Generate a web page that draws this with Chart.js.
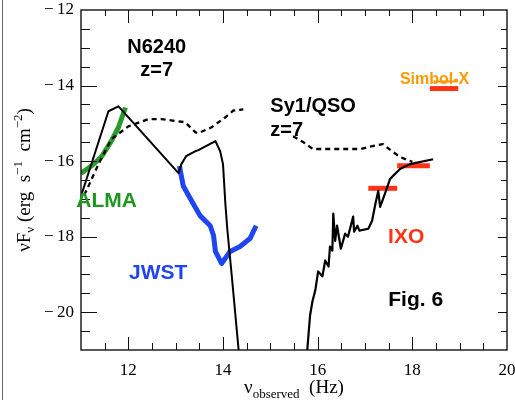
<!DOCTYPE html>
<html>
<head>
<meta charset="utf-8">
<script src="https://cdn.jsdelivr.net/npm/chart.js@4.4.0/dist/chart.umd.min.js"></script>
<style>
  html, body { margin: 0; padding: 0; background: #fff; }
  #wrap { width: 515px; height: 400px; }
</style>
</head>
<body>
<div id="wrap"><canvas id="myChart" width="515" height="400"></canvas></div>
<script>
// log(nu) [Hz] and log(nu F_nu) [erg s^-1 cm^-2]
const n6240IrX = [11.02, 11.58, 11.79, 11.85, 13.06, 13.12, 13.22, 13.41, 13.48, 13.84, 13.94, 14.0, 14.05, 14.09, 14.19, 14.33];
const n6240IrY = [-16.85, -14.68, -14.55, -14.63, -16.32, -16.08, -15.87, -15.74, -15.71, -15.47, -15.74, -16.08, -17.13, -17.79, -19.1, -21.0];

const n6240XrayX = [15.78, 15.84, 15.89, 15.95, 16.01, 16.10, 16.16, 16.23, 16.26, 16.31, 16.33, 16.37, 16.41, 16.49, 16.58, 16.64, 16.75, 16.77, 16.84, 16.88, 17.07, 17.15, 17.22, 17.28, 17.32, 17.42, 17.53, 17.74, 17.95, 18.44];
const n6240XrayY = [-21.0, -20.08, -19.71, -19.42, -18.92, -19.05, -18.63, -18.79, -18.26, -18.37, -17.39, -18.11, -17.71, -18.32, -17.92, -18.0, -17.47, -17.87, -17.71, -17.84, -17.79, -17.58, -17.13, -16.79, -17.21, -16.87, -16.47, -16.21, -16.08, -15.95];

// Sy1/QSO template (dashed), broken behind the label
const qsoX = [11.07, 11.37, 11.64, 12.0, 12.42, 12.7, 13.2, 13.42, 13.48, 13.75, 14.05, 14.22, 14.43, 15.0, 15.48, 15.7, 15.9, 16.26, 16.9, 17.17, 17.38, 17.57, 17.74, 18.0];
const qsoY = [-16.9, -16.08, -15.42, -15.08, -14.89, -14.89, -14.97, -15.24, -15.26, -15.11, -14.84, -14.66, -14.63, null, -15.34, -15.5, -15.68, -15.68, -15.68, -15.6, -15.55, -15.74, -15.89, -16.02];

const almaX = [11.0, 11.22, 11.43, 11.64, 11.79, 11.94];
const almaY = [-16.32, -16.13, -15.89, -15.47, -15.11, -14.58];

const jwstX = [13.08, 13.16, 13.35, 13.52, 13.73, 13.8, 13.84, 13.97, 14.15, 14.36, 14.57, 14.7];
const jwstY = [-16.13, -16.66, -17.08, -17.45, -17.71, -17.97, -18.39, -18.71, -18.39, -18.26, -18.05, -17.71];

// sensitivity bars: from, to, level
const ixoFrom = [17.07, 17.68];
const ixoTo = [17.68, 18.37];
const ixoLevel = [-16.72, -16.12];
const simbolFrom = [18.37];
const simbolTo = [18.97];
const simbolLevel = [-14.08];
const simbolOrangeFrom = [18.45];
const simbolOrangeTo = [18.96];
const simbolOrangeLevel = [-13.89];

const xTickLabels = [12, 14, 16, 18, 20];
const yTickLabels = [-20, -18, -16, -14, -12];
const xMin = 11, xMax = 20, yMin = -21, yMax = -12;

// text labels in data coordinates
const labelTexts = ['N6240', 'z=7', 'Sy1/QSO', 'z=7', 'Simbol-X', 'ALMA', 'JWST', 'IXO', 'Fig. 6'];
const labelX = [12.6, 12.6, 15.0, 15.0, 18.47, 11.54, 12.63, 17.87, 18.07];
const labelY = [-13.13, -13.76, -14.71, -15.34, -13.97, -17.21, -19.11, -18.18, -19.84];
const labelColors = ['#000', '#000', '#000', '#000', '#ff9900', '#1f961f', '#1f45f0', '#ff3315', '#000'];
const labelSizes = [20, 20, 20, 20, 16, 21, 21, 21, 21];
const labelAlign = ['center', 'center', 'left', 'left', 'center', 'center', 'center', 'center', 'center'];

const toPts = (xs, ys) => xs.map((v, i) => ({ x: v, y: ys[i] }));

const lineSet = (xs, ys, color, width, dash) => ({
  data: toPts(xs, ys),
  showLine: true,
  borderColor: color,
  borderWidth: width,
  borderDash: dash || [],
  pointRadius: 0,
  tension: 0,
  spanGaps: false,
  clip: 0,
  borderCapStyle: 'butt',
  borderJoinStyle: 'round'
});

const barSets = (from, to, level, color, width) =>
  from.map((f, i) => lineSet([f, to[i]], [level[i], level[i]], color, width));

const datasets = [
  lineSet(qsoX, qsoY, '#000', 2.3, [5, 4]),
  lineSet(n6240IrX, n6240IrY, '#000', 2),
  lineSet(n6240XrayX, n6240XrayY, '#000', 2.2),
  lineSet(almaX, almaY, '#2a9a2a', 5),
  lineSet(jwstX, jwstY, '#1f45f0', 5),
  ...barSets(ixoFrom, ixoTo, ixoLevel, '#ff3315', 5),
  ...barSets(simbolOrangeFrom, simbolOrangeTo, simbolOrangeLevel, '#ff9900', 2),
  ...barSets(simbolFrom, simbolTo, simbolLevel, '#ff3315', 5)
];

const serif = '"Liberation Serif", "Times New Roman", serif';

function drawRich(ctx, parts, x, y) {
  let total = 0;
  parts.forEach(p => {
    ctx.font = p[1] + 'px ' + serif;
    total += ctx.measureText(p[0]).width;
  });
  let cx = x - total / 2;
  parts.forEach(p => {
    ctx.font = p[1] + 'px ' + serif;
    ctx.fillText(p[0], cx, y + p[2]);
    cx += ctx.measureText(p[0]).width;
  });
}

const frameAndTicks = {
  id: 'frameAndTicks',
  afterDatasetsDraw(chart) {
    const { ctx, chartArea: a, scales: { x, y } } = chart;
    ctx.save();
    ctx.strokeStyle = '#111';
    ctx.lineWidth = 1;
    ctx.beginPath();
    for (let v = xMin + 0.5; v < xMax; v += 0.5) {
      const px = Math.round(x.getPixelForValue(v)) + 0.5;
      const major = Math.abs(v % 2) < 1e-6;
      ctx.moveTo(px, a.bottom); ctx.lineTo(px, a.bottom - (major ? 13 : 7));
      ctx.moveTo(px, a.top); ctx.lineTo(px, a.top + (major ? 13 : 6));
    }
    for (let v = yMin + 0.5; v < yMax; v += 0.5) {
      const py = Math.round(y.getPixelForValue(v)) + 0.5;
      const major = Math.abs(v % 2) < 1e-6;
      ctx.moveTo(a.left, py); ctx.lineTo(a.left + (major ? 16 : 9), py);
      ctx.moveTo(a.right, py); ctx.lineTo(a.right - (major ? 9 : 6), py);
    }
    ctx.stroke();
    ctx.strokeStyle = '#000';
    ctx.lineWidth = 1.3;
    ctx.strokeRect(a.left, a.top, a.right - a.left, a.bottom - a.top);

    // thin frame line at the left edge of the figure
    ctx.strokeStyle = '#666';
    ctx.lineWidth = 1;
    ctx.beginPath();
    ctx.moveTo(2.5, 0); ctx.lineTo(2.5, chart.height);
    ctx.stroke();
    ctx.restore();
  },
  afterDraw(chart) {
    const { ctx, scales: { x, y } } = chart;
    ctx.save();
    ctx.fillStyle = '#000';
    ctx.textBaseline = 'alphabetic';

    // y axis title
    ctx.save();
    ctx.translate(30, 180);
    ctx.rotate(-Math.PI / 2);
    drawRich(ctx, [['ν', 19, 0], ['F', 19, 0], ['ν', 13, 4], [' (erg  s', 19, 0], ['−1', 13, -8],
      ['  cm', 19, 0], ['−2', 13, -8], [')', 19, 0]], 0, 0);
    ctx.restore();

    // x axis title
    drawRich(ctx, [['ν', 19, 0], ['observed', 13, 5], ['  (Hz)', 19, 0]], 294, 393);

    // annotations
    labelTexts.forEach((t, i) => {
      ctx.font = 'bold ' + labelSizes[i] + 'px "Liberation Sans", Arial, sans-serif';
      ctx.fillStyle = labelColors[i];
      ctx.textAlign = labelAlign[i];
      ctx.fillText(t, x.getPixelForValue(labelX[i]), y.getPixelForValue(labelY[i]));
    });
    ctx.restore();
  }
};

const tickFont = { family: serif, size: 17 };
const fmt = v => (v < 0 ? '\u2212\u2009' : '') + Math.abs(v);

new Chart(document.getElementById('myChart').getContext('2d'), {
  type: 'scatter',
  data: { datasets },
  options: {
    responsive: false,
    animation: false,
    layout: { padding: { top: 10, right: 8, left: 0, bottom: 0 } },
    plugins: { legend: { display: false }, tooltip: { enabled: false } },
    scales: {
      x: {
        type: 'linear', min: xMin, max: xMax,
        grid: { display: false, drawTicks: false },
        border: { display: false },
        ticks: { font: tickFont, color: '#000', padding: 10, maxRotation: 0, callback: fmt },
        afterBuildTicks: s => { s.ticks = xTickLabels.map(v => ({ value: v })); },
        afterFit: s => { s.height = 50; s.paddingLeft = 0; s.paddingRight = 0; }
      },
      y: {
        type: 'linear', min: yMin, max: yMax,
        grid: { display: false, drawTicks: false },
        border: { display: false },
        ticks: { font: tickFont, color: '#000', padding: 7, callback: fmt },
        afterBuildTicks: s => { s.ticks = yTickLabels.map(v => ({ value: v })); },
        afterFit: s => { s.width = 81; s.paddingTop = 0; s.paddingBottom = 0; }
      }
    }
  },
  plugins: [frameAndTicks]
});
</script>
</body>
</html>
